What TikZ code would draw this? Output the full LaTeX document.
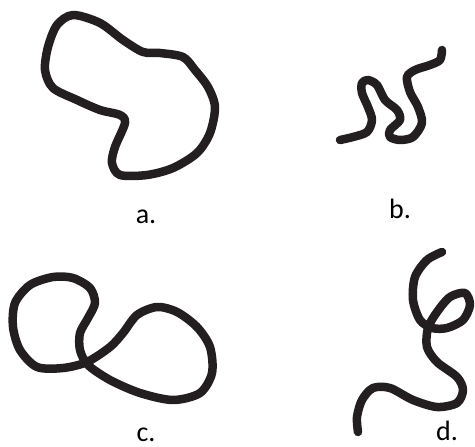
\documentclass[tikz,border=0pt]{standalone}
\usepackage{fontspec}
\setmainfont{Carlito}
\usepackage{xcolor}
\definecolor{inkblack}{RGB}{35,31,32}

\begin{document}
\begin{tikzpicture}[x=1pt, y=-1pt,
    curve/.style={draw=inkblack, line width=8.5pt, line cap=round, line join=round},
    tag/.style={font=\fontsize{28}{30}\selectfont, inner sep=0pt, anchor=base}]
\useasboundingbox (0,0) rectangle (475,447);

% a. closed blob
\draw[curve] plot[smooth cycle] coordinates {
    (73,15) (100,23) (123,40) (143,52) (160,53) (183,57) (195,70) (208,87)
    (215,107) (210,133) (197,153) (173,168) (147,175) (120,175) (112,163)
    (115,147) (125,123) (120,115) (100,110) (77,100) (53,88) (45,70)
    (48,47) (57,25)};

% b. squiggle
\draw[curve] plot[smooth] coordinates {
    (340,140) (353,137) (367,132) (372,120) (368,107) (362,93) (362,83)
    (368,80) (377,85) (385,100) (397,110) (400,120) (390,130) (390,137)
    (400,140) (413,137) (422,123) (418,107) (410,92) (407,77) (415,70)
    (430,65) (440,60) (442,50)};

% c. crossed loop
\draw[curve] plot[smooth cycle] coordinates {
    (80,350) (80,333) (88,318) (95,303) (90,288) (73,278) (53,277) (30,285)
    (15,303) (13,327) (20,350) (37,367) (63,368) (87,362) (110,347)
    (123,333) (137,315) (157,307) (177,312) (197,327) (210,347) (212,373)
    (200,393) (173,400) (140,393) (110,380) (88,365)};

% d. curl
\draw[curve] plot[smooth] coordinates {
    (442,252) (427,260) (415,277) (413,300) (420,320) (432,328) (447,328)
    (463,320) (470,305) (465,293) (450,297) (437,312) (428,328) (427,347)
    (437,362) (457,377) (463,390) (457,403) (437,407) (413,400) (390,388)
    (373,388) (362,400) (357,417) (358,432)};

\node[tag] (lbla) at (146,223) {a.};
\node[tag] (lblb) at (400,218) {b.};
\node[tag] (lblc) at (146,441) {c.};
\node[tag] (lbld) at (447,440) {d.};
\end{tikzpicture}
\end{document}
